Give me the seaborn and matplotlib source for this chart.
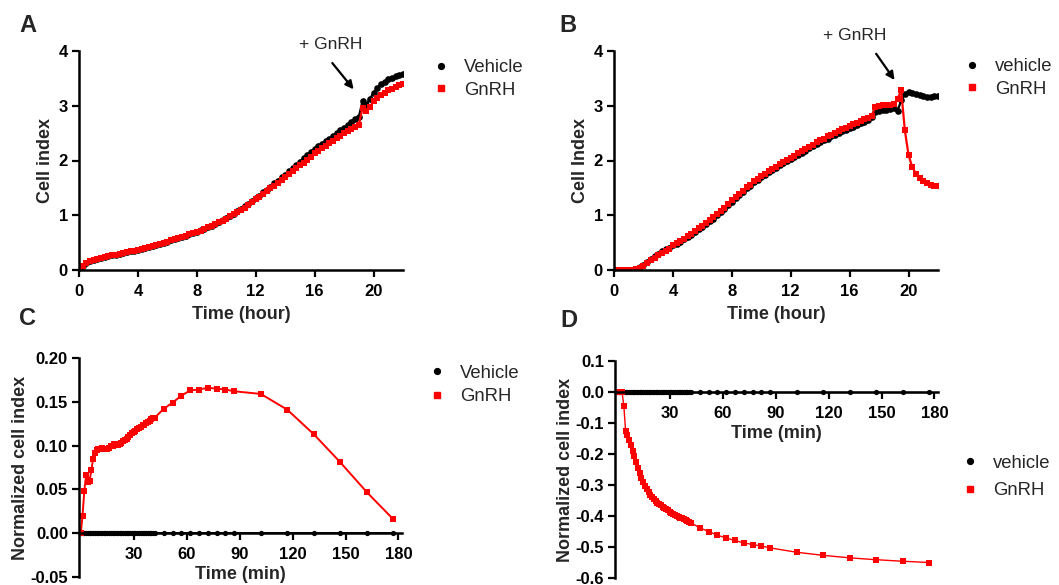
import numpy as np
import pandas as pd
import matplotlib
matplotlib.use("Agg")
import matplotlib.pyplot as plt
import seaborn as sns
from matplotlib.lines import Line2D

# ---------------- data ----------------
hours = np.arange(0, 22.001, 0.25)  # RTCA sampling every 15 min

a_vehicle = [0.00, 0.08, 0.13, 0.16, 0.18, 0.20, 0.22, 0.24, 0.26, 0.27, 0.28, 0.30, 0.31, 0.32, 0.34, 0.35,
             0.37, 0.38, 0.40, 0.42, 0.44, 0.46, 0.48, 0.50, 0.52, 0.54, 0.56, 0.58, 0.60, 0.62, 0.65, 0.67,
             0.70, 0.73, 0.75, 0.78, 0.81, 0.84, 0.87, 0.91, 0.95, 0.99, 1.03, 1.07, 1.12, 1.16, 1.21, 1.26,
             1.31, 1.36, 1.42, 1.47, 1.52, 1.58, 1.63, 1.69, 1.74, 1.80, 1.86, 1.92, 1.98, 2.04, 2.10, 2.16,
             2.21, 2.26, 2.30, 2.35, 2.40, 2.45, 2.50, 2.55, 2.60, 2.65, 2.70, 2.75, 2.80, 3.08, 3.02, 3.12,
             3.24, 3.32, 3.39, 3.44, 3.48, 3.51, 3.54, 3.56, 3.58]
a_gnrh = [0.00, 0.08, 0.13, 0.16, 0.18, 0.20, 0.22, 0.24, 0.26, 0.27, 0.28, 0.30, 0.31, 0.32, 0.34, 0.35,
          0.37, 0.38, 0.40, 0.42, 0.44, 0.46, 0.48, 0.50, 0.52, 0.54, 0.56, 0.58, 0.60, 0.62, 0.65, 0.67,
          0.70, 0.72, 0.75, 0.78, 0.81, 0.84, 0.87, 0.90, 0.94, 0.98, 1.02, 1.06, 1.10, 1.14, 1.19, 1.24,
          1.29, 1.34, 1.39, 1.44, 1.49, 1.54, 1.59, 1.64, 1.69, 1.75, 1.80, 1.86, 1.91, 1.96, 2.01, 2.06,
          2.14, 2.18, 2.23, 2.27, 2.32, 2.36, 2.41, 2.45, 2.50, 2.54, 2.58, 2.61, 2.65, 2.96, 2.90, 2.98,
          3.08, 3.15, 3.20, 3.24, 3.28, 3.31, 3.34, 3.37, 3.39]

b_vehicle = [0.00, 0.00, 0.00, 0.00, 0.00, 0.00, 0.01, 0.05, 0.10, 0.15, 0.20, 0.25, 0.30, 0.34, 0.38, 0.41,
             0.45, 0.48, 0.52, 0.56, 0.60, 0.64, 0.69, 0.74, 0.79, 0.84, 0.89, 0.94, 1.00, 1.06, 1.12, 1.19,
             1.25, 1.31, 1.37, 1.43, 1.49, 1.54, 1.60, 1.65, 1.70, 1.74, 1.79, 1.83, 1.87, 1.91, 1.95, 1.99,
             2.02, 2.06, 2.10, 2.14, 2.18, 2.22, 2.26, 2.30, 2.33, 2.37, 2.40, 2.44, 2.47, 2.50, 2.53, 2.56,
             2.59, 2.62, 2.65, 2.68, 2.71, 2.74, 2.79, 2.88, 2.91, 2.92, 2.93, 2.94, 2.95, 2.90, 3.10, 3.22,
             3.26, 3.24, 3.21, 3.19, 3.17, 3.16, 3.16, 3.17, 3.18]
b_gnrh = [0.00, 0.00, 0.00, 0.00, 0.00, 0.00, 0.01, 0.04, 0.08, 0.13, 0.18, 0.22, 0.27, 0.31, 0.35, 0.39,
          0.45, 0.49, 0.53, 0.57, 0.62, 0.66, 0.71, 0.76, 0.81, 0.86, 0.91, 0.96, 1.02, 1.08, 1.14, 1.21,
          1.27, 1.33, 1.39, 1.45, 1.51, 1.56, 1.62, 1.67, 1.72, 1.76, 1.81, 1.85, 1.89, 1.93, 1.97, 2.01,
          2.05, 2.09, 2.13, 2.17, 2.21, 2.25, 2.29, 2.33, 2.37, 2.40, 2.44, 2.47, 2.51, 2.54, 2.57, 2.60,
          2.63, 2.66, 2.69, 2.72, 2.75, 2.78, 2.82, 2.98, 3.00, 3.01, 3.02, 3.02, 3.03, 3.12, 3.28, 2.55,
          2.10, 1.88, 1.76, 1.68, 1.62, 1.58, 1.56, 1.54, 1.53]

minutes = list(range(0, 43)) + [47, 52, 57, 62, 67, 72, 77, 82, 87, 102, 117, 132, 147, 162, 177]

c_vehicle = [0.0] * 58
c_gnrh = [0.000, 0.020, 0.048, 0.066, 0.058, 0.060, 0.072, 0.085, 0.092, 0.095,
          0.096, 0.096, 0.097, 0.096, 0.096, 0.096, 0.097, 0.099, 0.100, 0.102,
          0.102, 0.101, 0.102, 0.103, 0.105, 0.106, 0.108, 0.110, 0.112, 0.114,
          0.116, 0.117, 0.119, 0.120, 0.121, 0.123, 0.124, 0.126, 0.127, 0.128,
          0.130, 0.131, 0.132,
          0.142, 0.149, 0.157, 0.163, 0.164, 0.166, 0.165, 0.164, 0.162,
          0.159, 0.141, 0.113, 0.081, 0.047, 0.016]

d_vehicle = [0.0] * 58
d_gnrh = [0.000, 0.000, 0.000, 0.000, -0.045, -0.125, -0.140, -0.155, -0.172, -0.190,
          -0.208, -0.226, -0.244, -0.260, -0.276, -0.290, -0.302, -0.313, -0.323, -0.332,
          -0.340, -0.346, -0.352, -0.357, -0.362, -0.366, -0.370, -0.374, -0.378, -0.382,
          -0.386, -0.389, -0.393, -0.396, -0.399, -0.402, -0.405, -0.408, -0.411, -0.414,
          -0.417, -0.419, -0.422,
          -0.438, -0.450, -0.462, -0.471, -0.479, -0.487, -0.492, -0.497, -0.503,
          -0.517, -0.527, -0.535, -0.541, -0.546, -0.550]

# ---------------- style ----------------
sns.set_style("ticks")
plt.rcParams['font.family'] = ['Liberation Sans', 'DejaVu Sans']
plt.rcParams['axes.unicode_minus'] = False

W, H = 1059, 585
fig = plt.figure(figsize=(W / 100, H / 100), dpi=100)


def px_axes(left, top, right, bottom):
    return fig.add_axes([left / W, 1 - bottom / H, (right - left) / W, (bottom - top) / H])


axA = px_axes(79, 51, 403, 270)
axB = px_axes(614, 51, 938, 270)
axC = px_axes(79, 358, 402, 577)
axD = px_axes(615, 361, 938, 578)

PAL = {'Vehicle': 'black', 'GnRH': '#ff0000'}


def draw(ax, t, veh, gn, ms, lw):
    df = pd.DataFrame({
        't': list(t) + list(t),
        'v': list(veh) + list(gn),
        'grp': ['Vehicle'] * len(veh) + ['GnRH'] * len(gn),
    })
    sns.lineplot(data=df, x='t', y='v', hue='grp', style='grp',
                 hue_order=['Vehicle', 'GnRH'], style_order=['Vehicle', 'GnRH'],
                 palette=PAL, markers={'Vehicle': 'o', 'GnRH': 's'}, dashes=False,
                 estimator=None, sort=False, legend=False, ax=ax,
                 markersize=ms, markeredgewidth=0, linewidth=lw)


draw(axA, hours, a_vehicle, a_gnrh, 4.8, 1.6)
draw(axB, hours, b_vehicle, b_gnrh, 4.8, 1.6)
draw(axC, minutes, c_vehicle, c_gnrh, 3.8, 1.4)
draw(axD, minutes, d_vehicle, d_gnrh, 3.8, 1.0)


def style_axes(ax):
    sns.despine(ax=ax)
    for s in ('left', 'bottom'):
        ax.spines[s].set_linewidth(1.8)
        ax.spines[s].set_color('black')
    ax.tick_params(direction='out', length=5, width=1.6, labelsize=12, colors='black', pad=3)
    ax.tick_params(axis='x', pad=5)
    for lab in ax.get_xticklabels() + ax.get_yticklabels():
        lab.set_fontweight('bold')


for ax in (axA, axB):
    ax.set_xlim(0, 22)
    ax.set_ylim(0, 4)
    ax.set_xticks([0, 4, 8, 12, 16, 20])
    ax.set_yticks([0, 1, 2, 3, 4])
    ax.set_xlabel('Time (hour)', fontsize=13, fontweight='bold', labelpad=5)
axA.set_ylabel('Cell index', fontsize=13, fontweight='bold', labelpad=3)
axB.set_ylabel('Cell Index', fontsize=13, fontweight='bold', labelpad=3)

axC.set_xlim(-1, 182)
axC.set_ylim(-0.05, 0.20)
axC.set_yticks([-0.05, 0.00, 0.05, 0.10, 0.15, 0.20])
axC.set_yticklabels(['-0.05', '0.00', '0.05', '0.10', '0.15', '0.20'])
axD.set_xlim(-1, 182)
axD.set_ylim(-0.6, 0.1)
axD.set_yticks([-0.6, -0.5, -0.4, -0.3, -0.2, -0.1, 0.0, 0.1])
axD.set_yticklabels(['-0.6', '-0.5', '-0.4', '-0.3', '-0.2', '-0.1', '0.0', '0.1'])
for ax in (axC, axD):
    ax.set_xticks([30, 60, 90, 120, 150, 180])
    ax.spines['bottom'].set_position(('data', 0))
    ax.set_xlabel('Time (min)', fontsize=13, fontweight='bold', labelpad=3)
    ax.set_ylabel('Normalized cell index', fontsize=13, fontweight='bold', labelpad=1)

for ax in (axA, axB, axC, axD):
    style_axes(ax)

# annotations
for ax, txt_xy, tail, head in ((axA, (17.1, 4.12), (17.2, 3.78), (18.65, 3.3)),
                               (axB, (16.35, 4.28), (17.8, 3.95), (19.05, 3.47))):
    ax.annotate('+ GnRH', xy=txt_xy, ha='center', va='center', fontsize=12.5,
                annotation_clip=False)
    ax.annotate('', xy=head, xytext=tail, annotation_clip=False,
                arrowprops=dict(arrowstyle='-|>', color='black', lw=1.6, mutation_scale=12,
                                shrinkA=0, shrinkB=0))


# legends
def add_legend(ax, labels, xm, yc, spacing):
    handles = [Line2D([], [], color='black', marker='o', linestyle='none', markersize=4.2),
               Line2D([], [], color='#ff0000', marker='s', linestyle='none', markersize=4.5)]
    left = xm - 9
    ax.legend(handles, labels, loc='center left', bbox_to_anchor=(left / W, 1 - yc / H),
              bbox_transform=fig.transFigure, frameon=False, borderpad=0, borderaxespad=0,
              handlelength=1.0, handletextpad=0.75, labelspacing=spacing, fontsize=13.3)


add_legend(axA, ['Vehicle', 'GnRH'], 441, 79, 0.3)
add_legend(axB, ['vehicle', 'GnRH'], 972, 78, 0.3)
add_legend(axC, ['Vehicle', 'GnRH'], 437, 385, 0.35)
add_legend(axD, ['vehicle', 'GnRH'], 970, 477, 0.55)

# panel letters
for letter, x, y in (('A', 28, 25), ('B', 568, 25), ('C', 28, 319), ('D', 569, 320)):
    fig.text(x / W, 1 - y / H, letter, fontsize=17, fontweight='bold', ha='center', va='center')

fig.savefig('out.png', dpi=100)
